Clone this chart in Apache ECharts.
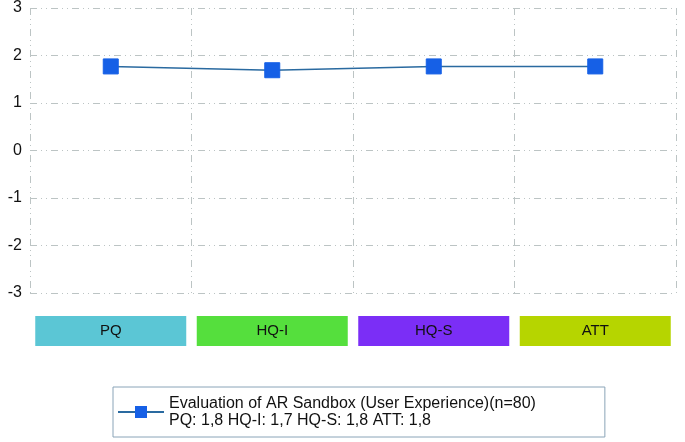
<!DOCTYPE html>
<html>
<head>
<meta charset="utf-8">
<script src="https://cdn.jsdelivr.net/npm/echarts@6/dist/echarts.min.js"></script>
<style>
  html, body { margin: 0; padding: 0; background: #fff; }
  #chart { width: 685px; height: 442px; }
</style>
</head>
<body>
<div id="chart"></div>
<script>
const categories = ["PQ", "HQ-I", "HQ-S", "ATT"];
const scores = [1.77, 1.69, 1.77, 1.77];
const boxColors = ["#5bc6d5", "#55df3d", "#7b2ef6", "#b6d500"];
const boxKeys = ["pq", "hqi", "hqs", "att"];
const seriesName = "Evaluation of AR Sandbox (User Experience)(n=80)";
const summaryLine = "PQ: 1,8 HQ-I: 1,7 HQ-S: 1,8 ATT: 1,8";

const gridLine = {
  color: "#bcc4c4",
  width: 1,
  type: [7, 4, 1, 4, 1, 4]
};

const rich = {};
boxKeys.forEach((k, i) => {
  rich[k] = {
    backgroundColor: boxColors[i],
    width: 151,
    height: 30,
    lineHeight: 30,
    align: "center",
    color: "#111",
    fontSize: 15,
    fontFamily: "Liberation Sans"
  };
});

const myChart = echarts.init(document.getElementById("chart"));
const option = {
  animation: false,
  grid: {
    left: 30,
    right: 9,
    top: 6,
    bottom: 149
  },
  xAxis: {
    type: "category",
    data: categories,
    boundaryGap: true,
    axisLine: { show: false },
    axisTick: { show: false },
    axisLabel: {
      margin: 23,
      interval: 0,
      formatter: (value, idx) => `{${boxKeys[idx]}|${value}}`,
      rich: rich
    },
    splitLine: {
      show: true,
      lineStyle: gridLine
    }
  },
  yAxis: {
    type: "value",
    min: -3,
    max: 3,
    interval: 1,
    axisLine: { show: false },
    axisTick: { show: false },
    axisLabel: {
      color: "#111",
      fontSize: 16,
      fontFamily: "Liberation Sans",
      margin: 8
    },
    splitLine: {
      show: true,
      lineStyle: gridLine
    }
  },
  legend: {
    left: 113,
    top: 387,
    padding: [8, 69, 8, 4],
    borderColor: "#8aa4b8",
    borderWidth: 1,
    itemWidth: 46,
    itemHeight: 15,
    itemGap: 8,
    textStyle: {
      color: "#111",
      fontSize: 16,
      fontFamily: "Liberation Sans",
      lineHeight: 17
    },
    formatter: name => name + "\n" + summaryLine,
    data: [seriesName]
  },
  series: [
    {
      name: seriesName,
      type: "line",
      data: scores,
      symbol: "rect",
      symbolSize: 15,
      lineStyle: {
        color: "#2a6aa0",
        width: 1.5
      },
      itemStyle: {
        color: "#1660e6",
        borderColor: "#1660e6"
      }
    }
  ]
};
myChart.setOption(option);
</script>
</body>
</html>
